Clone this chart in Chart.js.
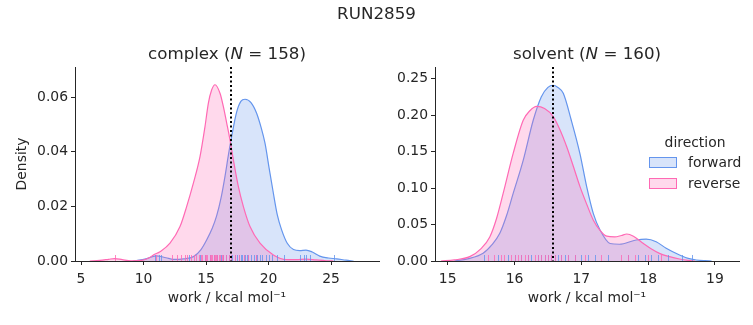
<!DOCTYPE html>
<html>
<head>
<meta charset="utf-8">
<script src="https://cdn.jsdelivr.net/npm/chart.js@4.4.0/dist/chart.umd.min.js"></script>
<style>
  body { margin: 0; background: #fff; font-family: "DejaVu Sans", sans-serif; color: #262626; }
  #wrap { position: relative; width: 753px; height: 325px; overflow: hidden; }
  canvas { position: absolute; top: 0; }
  .txt { position: absolute; white-space: nowrap; }
  .big { font-size: 16.7px; line-height: 20px; text-align: center; }
  .leg { font-size: 13.9px; line-height: 16px; }
  .patch { position: absolute; width: 26px; height: 9px; }
</style>
</head>
<body>
<div id="wrap">
  <canvas id="complexChart" width="390" height="325" style="left:0"></canvas>
  <canvas id="solventChart" width="363" height="325" style="left:390px"></canvas>

  <div class="txt big" style="left:0; width:753px; top:3px;">RUN2859</div>
  <div class="txt big" style="left:75px; width:304px; top:43px;">complex (<i>N</i> = 158)</div>
  <div class="txt big" style="left:435px; width:304px; top:43px;">solvent (<i>N</i> = 160)</div>

  <div class="txt leg" style="left:640px; width:110px; top:134px; text-align:center;">direction</div>
  <div class="patch" style="left:649px; top:157px; background:rgba(100,149,237,0.25); border:1px solid #6495ed;"></div>
  <div class="txt leg" style="left:688px; top:154px;">forward</div>
  <div class="patch" style="left:649px; top:178px; background:rgba(255,105,180,0.25); border:1px solid #ff69b4;"></div>
  <div class="txt leg" style="left:688px; top:175px;">reverse</div>
</div>

<script>
// KDE curves: [work, density]
const complexForward = [
  [9.2, 0], [10.2, 0.0008], [11.0, 0.0019], [11.8, 0.0012], [12.4, 0.0006], [13.2, 0.0008],
  [14.0, 0.0016], [14.6, 0.0042], [15.05, 0.0077], [15.5, 0.012], [15.85, 0.0165], [16.2, 0.023],
  [16.52, 0.031], [16.8, 0.039], [17.05, 0.0455], [17.45, 0.0545], [17.8, 0.0585], [18.12, 0.0592],
  [18.6, 0.058], [19.05, 0.0541], [19.4, 0.049], [19.72, 0.0431], [20.05, 0.034], [20.39, 0.0248],
  [20.7, 0.017], [21.05, 0.0114], [21.5, 0.0065], [22.0, 0.0042], [22.5, 0.0038], [23.0, 0.004],
  [23.5, 0.0033], [24.1, 0.0018], [24.8, 0.0011], [25.45, 0.0008], [26.2, 0.0003], [26.8, 0]
];
const complexReverse = [
  [5.7, 0], [6.5, 0.0002], [7.2, 0.0006], [7.7, 0.0009], [8.3, 0.0005], [9.0, 0.0001], [9.8, 0.0002],
  [10.5, 0.0013], [10.79, 0.0022], [11.32, 0.0034], [12.12, 0.0065], [12.92, 0.0126], [13.45, 0.0199],
  [13.99, 0.0285], [14.52, 0.0382], [14.92, 0.0492], [15.19, 0.0578], [15.45, 0.0626], [15.72, 0.0645],
  [16.12, 0.0614], [16.39, 0.0565], [16.66, 0.0504], [16.92, 0.0443], [17.19, 0.037], [17.59, 0.0272],
  [17.99, 0.0199], [18.52, 0.0126], [19.32, 0.0065], [20.39, 0.0022], [21.45, 0.0005], [22.2, 0.0005],
  [23.0, 0.0007], [23.8, 0.0004], [24.6, 0.0001], [25.2, 0]
];
const solventForward = [
  [15.1, 0], [15.3, 0.003], [15.53, 0.0105], [15.66, 0.022], [15.78, 0.038], [15.88, 0.062],
  [15.98, 0.0927], [16.13, 0.138], [16.28, 0.193], [16.4, 0.225], [16.5, 0.238], [16.576, 0.241],
  [16.65, 0.238], [16.73, 0.23], [16.85, 0.193], [16.98, 0.147], [17.08, 0.102], [17.18, 0.065],
  [17.28, 0.0425], [17.43, 0.024], [17.57, 0.023], [17.82, 0.0288], [17.97, 0.030], [18.12, 0.0265],
  [18.27, 0.0174], [18.47, 0.0082], [18.6, 0.0035], [18.72, 0.0014], [18.85, 0.0004], [18.95, 0]
];
const solventReverse = [
  [14.9, 0], [15.1, 0.0015], [15.33, 0.006], [15.5, 0.017], [15.63, 0.033], [15.73, 0.058],
  [15.83, 0.0927], [15.98, 0.1475], [16.13, 0.193], [16.23, 0.206], [16.33, 0.212], [16.45, 0.209],
  [16.58, 0.198], [16.68, 0.18], [16.78, 0.157], [16.88, 0.13], [16.98, 0.102], [17.08, 0.078],
  [17.18, 0.056], [17.28, 0.042], [17.38, 0.034], [17.5, 0.033], [17.6, 0.035], [17.68, 0.037],
  [17.78, 0.034], [17.93, 0.024], [18.05, 0.0165], [18.17, 0.0105], [18.32, 0.006], [18.47, 0.0027],
  [18.6, 0.0008], [18.7, 0]
];

// rug marks (individual works, estimated)
const complexForwardRug = [10.9, 11.2, 11.4, 13.6, 14.5, 14.9, 15.3, 15.6, 15.9, 16.2, 16.4, 16.6, 16.8,
  17.0, 17.1, 17.3, 17.5, 17.6, 17.8, 17.9, 18.0, 18.1, 18.3, 18.4, 18.6, 18.8, 19.0, 19.1, 19.3, 19.5,
  19.8, 20.0, 20.3, 20.7, 21.2, 22.5, 22.8, 23.0, 23.3, 25.2];
const complexReverseRug = [7.7, 11.0, 12.3, 12.7, 13.0, 13.3, 13.5, 13.8, 14.0, 14.2, 14.4, 14.6, 14.7,
  14.9, 15.0, 15.1, 15.3, 15.4, 15.5, 15.6, 15.7, 15.8, 15.9, 16.0, 16.1, 16.3, 16.4, 16.6, 16.8, 17.0,
  17.3, 17.6, 18.0, 18.4, 19.0];
const solventForwardRug = [15.55, 15.75, 15.9, 16.0, 16.1, 16.2, 16.25, 16.35, 16.4, 16.45, 16.5, 16.55,
  16.6, 16.65, 16.7, 16.75, 16.8, 16.9, 17.0, 17.1, 17.2, 17.4, 17.7, 17.85, 17.95, 18.05, 18.15, 18.3,
  18.5, 18.65];
const solventReverseRug = [15.6, 15.7, 15.8, 15.85, 15.95, 16.0, 16.05, 16.1, 16.15, 16.2, 16.3, 16.35,
  16.4, 16.45, 16.5, 16.55, 16.6, 16.7, 16.8, 16.9, 17.05, 17.3, 17.6, 17.7, 17.8, 18.0, 18.2];

// dotted reference lines
const complexMarker = 17.0;
const solventMarker = 16.58;

const complexXTicks = [5, 10, 15, 20, 25];
const complexYTicks = [0, 0.02, 0.04, 0.06];
const solventXTicks = [15, 16, 17, 18, 19];
const solventYTicks = [0, 0.05, 0.10, 0.15, 0.20, 0.25];

const blue = '#6495ed', blueFill = 'rgba(100,149,237,0.25)', blueRug = 'rgba(100,149,237,0.8)';
const pink = '#ff69b4', pinkFill = 'rgba(255,105,180,0.25)', pinkRug = 'rgba(255,105,180,0.8)';
const textColor = '#262626';
const tickFont = { family: 'DejaVu Sans', size: 13.9 };

function toXY(arr) {
  return arr.map(p => ({ x: p[0], y: p[1] }));
}

const extrasPlugin = {
  id: 'extras',
  afterDatasetsDraw(chart, args, opts) {
    const { ctx, chartArea, scales } = chart;
    ctx.save();
    ctx.lineWidth = 1;
    opts.rugs.forEach(r => {
      ctx.strokeStyle = r.color;
      r.values.forEach(v => {
        const px = Math.round(scales.x.getPixelForValue(v)) + 0.5;
        ctx.beginPath();
        ctx.moveTo(px, chartArea.bottom);
        ctx.lineTo(px, chartArea.bottom - 6);
        ctx.stroke();
      });
    });
    const mx = Math.round(scales.x.getPixelForValue(opts.marker));
    ctx.setLineDash([2, 2.5]);
    ctx.lineWidth = 2;
    ctx.strokeStyle = '#000';
    ctx.beginPath();
    ctx.moveTo(mx, chartArea.top);
    ctx.lineTo(mx, chartArea.bottom);
    ctx.stroke();
    ctx.restore();
  }
};

function curve(data, color, fill) {
  return {
    data: toXY(data),
    borderColor: color,
    backgroundColor: fill,
    borderWidth: 1.2,
    fill: 'origin',
    pointRadius: 0,
    cubicInterpolationMode: 'monotone'
  };
}

function makeChart(id, cfg) {
  return new Chart(document.getElementById(id), {
    type: 'line',
    data: {
      datasets: [
        curve(cfg.reverse, pink, pinkFill),
        curve(cfg.forward, blue, blueFill)
      ]
    },
    options: {
      responsive: false,
      animation: false,
      devicePixelRatio: 1,
      layout: { padding: { left: 0, top: 67, right: cfg.padRight, bottom: 0 } },
      plugins: {
        legend: { display: false },
        tooltip: { enabled: false },
        extras: { rugs: cfg.rugs, marker: cfg.marker }
      },
      scales: {
        x: {
          type: 'linear',
          min: cfg.xMin,
          max: cfg.xMax,
          afterBuildTicks: s => { s.ticks = cfg.xTicks.map(v => ({ value: v })); },
          afterFit: s => { s.height = 64; },
          grid: { display: true, drawOnChartArea: false, drawTicks: true, tickLength: 4, color: textColor },
          border: { display: true, color: textColor, width: 1 },
          ticks: { color: textColor, font: tickFont, padding: 6, maxRotation: 0, autoSkip: false,
                   callback: v => String(v) },
          title: { display: true, text: 'work / kcal mol\u207B\u00B9', color: textColor, font: tickFont,
                   padding: { top: 0, bottom: 18 } }
        },
        y: {
          min: 0,
          max: cfg.yMax,
          afterBuildTicks: s => { s.ticks = cfg.yTicks.map(v => ({ value: v })); },
          afterFit: s => { s.width = cfg.yWidth; },
          grid: { display: true, drawOnChartArea: false, drawTicks: true, tickLength: 4, color: textColor },
          border: { display: true, color: textColor, width: 1 },
          ticks: { color: textColor, font: tickFont, padding: 3, autoSkip: false,
                   callback: v => v.toFixed(2) },
          title: { display: cfg.yTitle, text: 'Density', color: textColor, font: tickFont,
                   padding: { top: 14, bottom: 0 } }
        }
      }
    },
    plugins: [extrasPlugin]
  });
}

makeChart('complexChart', {
  forward: complexForward, reverse: complexReverse,
  rugs: [{ values: complexForwardRug, color: blueRug }, { values: complexReverseRug, color: pinkRug }],
  marker: complexMarker,
  xMin: 4.52, xMax: 28.84, yMax: 0.071,
  xTicks: complexXTicks, yTicks: complexYTicks,
  yWidth: 75, padRight: 11, yTitle: true
});

makeChart('solventChart', {
  forward: solventForward, reverse: solventReverse,
  rugs: [{ values: solventForwardRug, color: blueRug }, { values: solventReverseRug, color: pinkRug }],
  marker: solventMarker,
  xMin: 14.81, xMax: 19.36, yMax: 0.266,
  xTicks: solventXTicks, yTicks: solventYTicks,
  yWidth: 45, padRight: 14, yTitle: false
});
</script>
</body>
</html>
